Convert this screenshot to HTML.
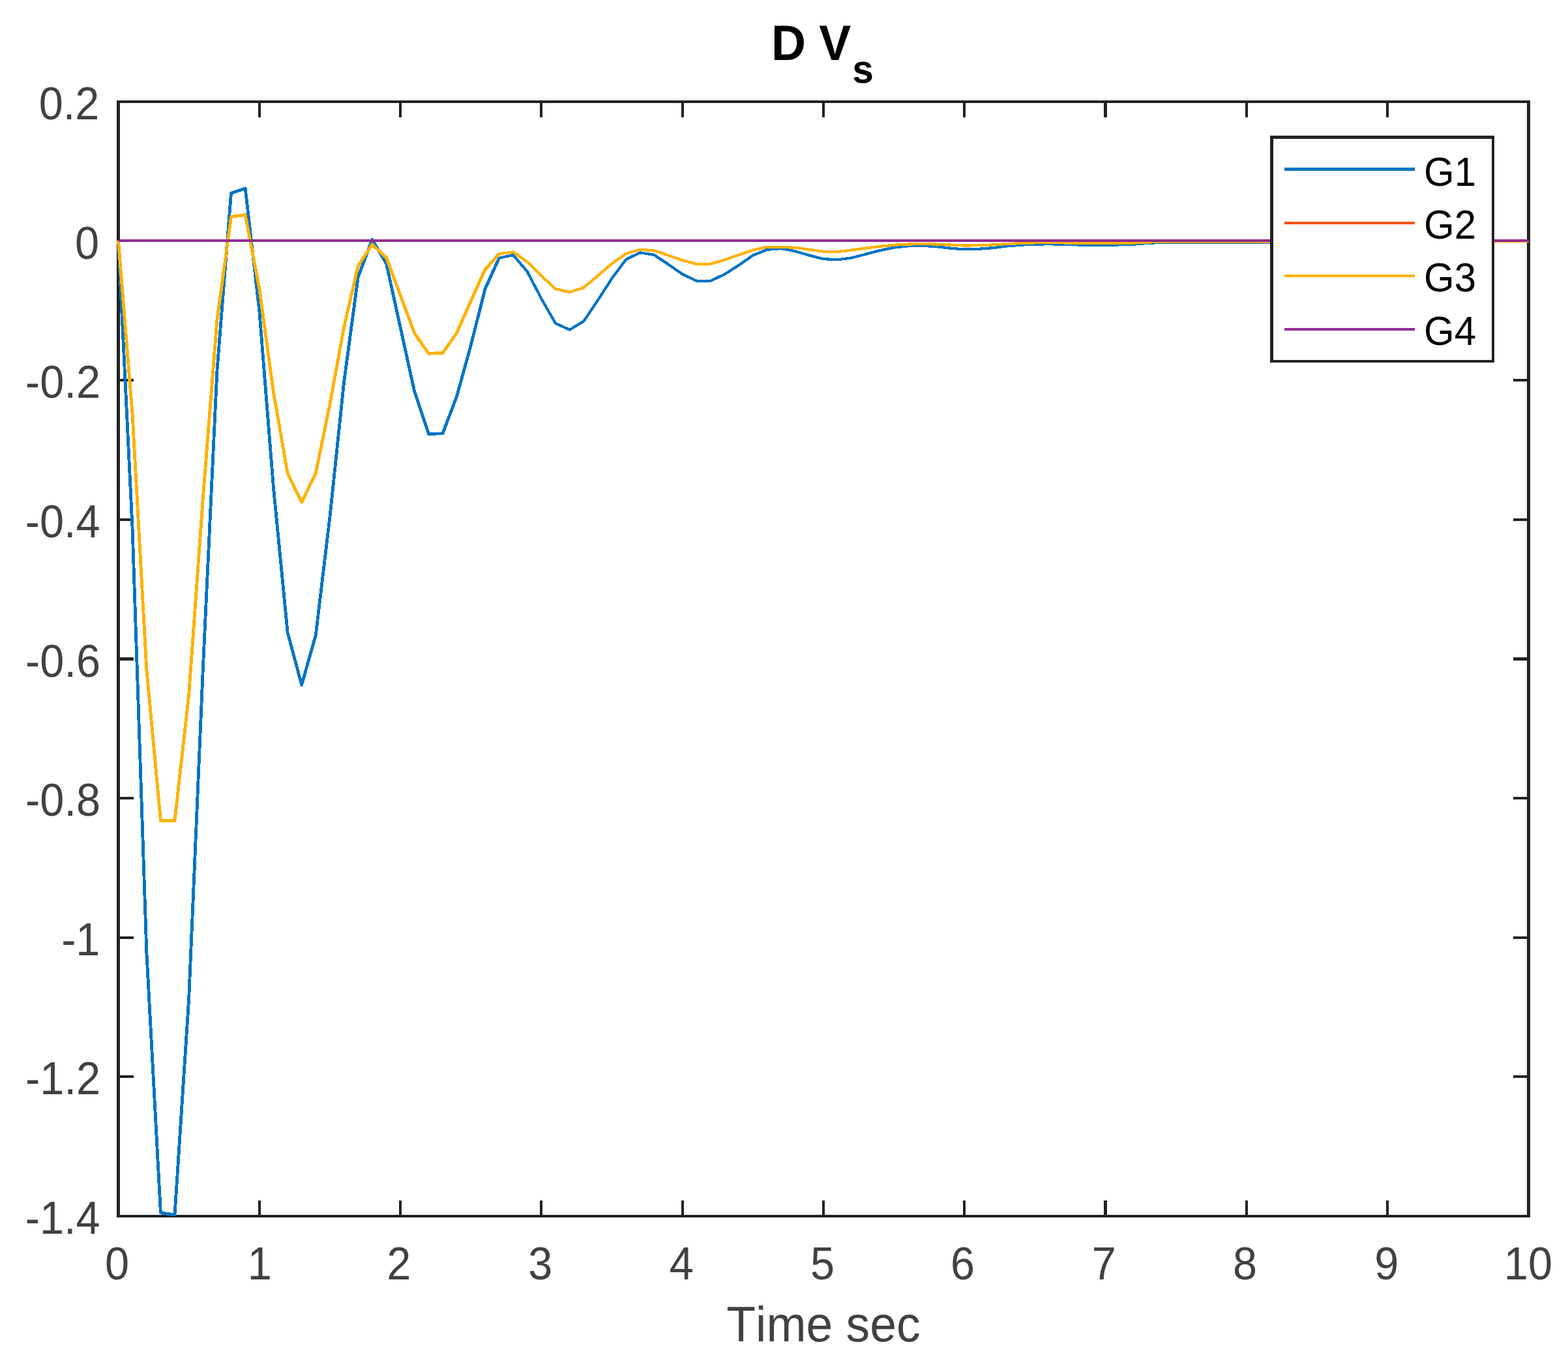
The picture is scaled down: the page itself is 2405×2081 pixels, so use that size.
<!DOCTYPE html>
<html lang="en"><head><meta charset="utf-8"><title>D Vs - Time sec</title>
<style>html,body{margin:0;padding:0;background:#fff}body{width:2405px;height:2081px;overflow:hidden}svg{display:block}text{font-family:"Liberation Sans",Arial,Helvetica,sans-serif}</style>
</head><body>
<svg width="2405" height="2081" viewBox="0 0 2405 2081">
<rect x="0" y="0" width="2405" height="2081" fill="#ffffff"/>
<g shape-rendering="crispEdges" fill="#222222">
<rect x="179" y="154" width="5" height="1713"/>
<rect x="2342" y="154" width="5" height="1713"/>
<rect x="179" y="154" width="2168" height="4"/>
<rect x="179" y="1863" width="2168" height="4"/>
<rect x="396" y="1841" width="4" height="22"/>
<rect x="396" y="158" width="4" height="22"/>
<rect x="612" y="1841" width="4" height="22"/>
<rect x="612" y="158" width="4" height="22"/>
<rect x="828" y="1841" width="4" height="22"/>
<rect x="828" y="158" width="4" height="22"/>
<rect x="1045" y="1841" width="4" height="22"/>
<rect x="1045" y="158" width="4" height="22"/>
<rect x="1261" y="1841" width="4" height="22"/>
<rect x="1261" y="158" width="4" height="22"/>
<rect x="1477" y="1841" width="4" height="22"/>
<rect x="1477" y="158" width="4" height="22"/>
<rect x="1693" y="1841" width="5" height="22"/>
<rect x="1693" y="158" width="5" height="22"/>
<rect x="1910" y="1841" width="4" height="22"/>
<rect x="1910" y="158" width="4" height="22"/>
<rect x="2126" y="1841" width="4" height="22"/>
<rect x="2126" y="158" width="4" height="22"/>
<rect x="184" y="581" width="21" height="4"/>
<rect x="2321" y="581" width="21" height="4"/>
<rect x="184" y="795" width="21" height="4"/>
<rect x="2321" y="795" width="21" height="4"/>
<rect x="184" y="1008" width="21" height="5"/>
<rect x="2321" y="1008" width="21" height="5"/>
<rect x="184" y="1222" width="21" height="4"/>
<rect x="2321" y="1222" width="21" height="4"/>
<rect x="184" y="1436" width="21" height="4"/>
<rect x="2321" y="1436" width="21" height="4"/>
<rect x="184" y="1649" width="21" height="4"/>
<rect x="2321" y="1649" width="21" height="4"/>
</g>
<g shape-rendering="crispEdges">
<polyline points="181.5,369.0 203.1,810.6 224.8,1459.7 246.4,1859.8 268.0,1862.9 289.6,1532.9 311.3,1026.1 332.9,569.0 354.5,296.2 376.2,288.9 397.8,476.9 419.4,747.2 441.1,969.9 462.7,1050.4 484.3,974.0 506.0,792.2 527.6,586.0 549.2,425.0 570.8,367.5 592.5,404.0 614.1,502.0 635.7,600.5 657.4,665.5 679.0,664.8 700.6,607.7 722.2,529.6 743.9,443.4 765.5,395.8" fill="none" stroke="#0074C5" stroke-width="4.80" stroke-linejoin="round" stroke-linecap="butt"/>
<polyline points="765.5,395.8 787.1,391.0 808.8,416.6 830.4,458.1 852.0,495.8 873.7,505.7 895.3,492.6 916.9,460.5 938.6,426.9 960.2,397.8 981.8,387.4 1003.4,390.9 1025.1,405.4 1046.7,420.5 1068.3,430.7 1090.0,430.7 1111.6,420.5 1133.2,406.7 1154.8,391.6 1176.5,382.8 1198.1,381.1 1219.7,385.3 1241.4,391.6 1263.0,397.1 1284.6,398.3 1306.3,395.4 1327.9,389.8 1349.5,384.1 1371.2,379.6 1392.8,377.3 1414.4,376.8 1436.0,378.1 1457.7,380.7 1479.3,382.4 1500.9,381.8 1522.6,380.2 1544.2,377.5 1565.8,375.6 1587.5,374.6 1609.1,374.3 1630.7,374.7 1652.3,375.4 1674.0,375.8 1695.6,375.8 1717.2,375.4 1738.9,374.7 1760.5,372.8 1782.1,372.0 1803.8,372.0 1825.4,372.0 1847.0,372.0 1868.6,372.0 1890.3,372.0 1911.9,372.0 1933.5,372.0 1955.2,372.0 1976.8,371.9 1998.4,371.7 2020.1,371.6 2041.7,371.3 2063.3,371.2 2084.9,371.1 2106.6,370.9 2128.2,370.8 2149.8,370.6 2171.5,370.5 2193.1,370.4 2214.7,370.2 2236.3,370.1 2258.0,369.9 2279.6,369.7 2301.2,369.7 2322.9,369.7 2344.5,369.7" fill="none" stroke="#0074C5" stroke-width="4.20" stroke-linejoin="round" stroke-linecap="butt"/>
<line x1="181.5" y1="369.0" x2="2344.5" y2="369.0" stroke="#F9520B" stroke-width="4.20"/>
<polyline points="181.5,369.0 203.1,635.4 224.8,1026.1 246.4,1258.2 268.0,1258.6 289.6,1066.2 311.3,764.4 332.9,491.0 354.5,332.3 376.2,329.5 397.8,442.5 419.4,601.1 441.1,725.9 462.7,770.1 484.3,725.6 506.0,619.6 527.6,501.7 549.2,407.8 570.8,374.8 592.5,395.2 614.1,452.8 635.7,511.0 657.4,542.2 679.0,541.5 700.6,510.4 722.2,461.6 743.9,413.5 765.5,389.2" fill="none" stroke="#FFB100" stroke-width="4.80" stroke-linejoin="round" stroke-linecap="butt"/>
<polyline points="765.5,389.2 787.1,386.5 808.8,401.6 830.4,422.9 852.0,443.1 873.7,448.0 895.3,441.1 916.9,422.9 938.6,404.1 960.2,389.1 981.8,382.8 1003.4,384.3 1025.1,391.6 1046.7,399.1 1068.3,404.9 1090.0,404.7 1111.6,398.4 1133.2,390.9 1154.8,383.5 1176.5,378.8 1198.1,378.9 1219.7,379.8 1241.4,382.8 1263.0,385.7 1284.6,386.0 1306.3,383.5 1327.9,380.5 1349.5,377.8 1371.2,375.7 1392.8,374.6 1414.4,374.0 1436.0,374.6 1457.7,375.6 1479.3,376.5 1500.9,376.3 1522.6,375.4 1544.2,374.1 1565.8,373.1 1587.5,372.4 1609.1,372.2 1630.7,372.4 1652.3,372.8 1674.0,373.3 1695.6,373.3 1717.2,373.0 1738.9,372.5 1760.5,371.5 1782.1,371.0 1803.8,371.0 1825.4,371.0 1847.0,371.0 1868.6,371.0 1890.3,371.0 1911.9,371.0 1933.5,371.0 1955.2,371.0 1976.8,370.9 1998.4,370.9 2020.1,370.8 2041.7,370.7 2063.3,370.7 2084.9,370.6 2106.6,370.5 2128.2,370.5 2149.8,370.4 2171.5,370.3 2193.1,370.3 2214.7,370.2 2236.3,370.1 2258.0,370.1 2279.6,370.0 2301.2,370.0 2322.9,370.0 2344.5,370.0" fill="none" stroke="#FFB100" stroke-width="4.20" stroke-linejoin="round" stroke-linecap="butt"/>
<line x1="181.5" y1="369.0" x2="2344.5" y2="369.0" stroke="#912C92" stroke-width="4.20"/>
</g>
<g>
<text transform="translate(152.30 183.00) scale(1.0000 1.0430)" font-size="66.67" fill="#414141" text-anchor="end">0.2</text>
<text transform="translate(152.10 396.62) scale(1.0000 1.0430)" font-size="66.67" fill="#414141" text-anchor="end">0</text>
<text transform="translate(154.00 610.25) scale(1.0000 1.0430)" font-size="66.67" fill="#414141" text-anchor="end">-0.2</text>
<text transform="translate(153.60 823.88) scale(1.0000 1.0430)" font-size="66.67" fill="#414141" text-anchor="end">-0.4</text>
<text transform="translate(154.00 1037.50) scale(1.0000 1.0430)" font-size="66.67" fill="#414141" text-anchor="end">-0.6</text>
<text transform="translate(154.00 1251.12) scale(1.0000 1.0430)" font-size="66.67" fill="#414141" text-anchor="end">-0.8</text>
<text transform="translate(153.40 1464.75) scale(1.0000 1.0430)" font-size="66.67" fill="#414141" text-anchor="end">-1</text>
<text transform="translate(154.00 1678.38) scale(1.0000 1.0430)" font-size="66.67" fill="#414141" text-anchor="end">-1.2</text>
<text transform="translate(153.60 1892.00) scale(1.0000 1.0430)" font-size="66.67" fill="#414141" text-anchor="end">-1.4</text>
<text transform="translate(179.60 1961.50) scale(1.0000 1.0430)" font-size="66.67" fill="#414141" text-anchor="middle">0</text>
<text transform="translate(398.30 1961.50) scale(1.0000 1.0430)" font-size="66.67" fill="#414141" text-anchor="middle">1</text>
<text transform="translate(611.80 1961.50) scale(1.0000 1.0430)" font-size="66.67" fill="#414141" text-anchor="middle">2</text>
<text transform="translate(828.90 1961.50) scale(1.0000 1.0430)" font-size="66.67" fill="#414141" text-anchor="middle">3</text>
<text transform="translate(1045.20 1961.50) scale(1.0000 1.0430)" font-size="66.67" fill="#414141" text-anchor="middle">4</text>
<text transform="translate(1261.50 1961.50) scale(1.0000 1.0430)" font-size="66.67" fill="#414141" text-anchor="middle">5</text>
<text transform="translate(1476.60 1961.50) scale(1.0000 1.0430)" font-size="66.67" fill="#414141" text-anchor="middle">6</text>
<text transform="translate(1693.30 1961.50) scale(1.0000 1.0430)" font-size="66.67" fill="#414141" text-anchor="middle">7</text>
<text transform="translate(1909.60 1961.50) scale(1.0000 1.0430)" font-size="66.67" fill="#414141" text-anchor="middle">8</text>
<text transform="translate(2126.70 1961.50) scale(1.0000 1.0430)" font-size="66.67" fill="#414141" text-anchor="middle">9</text>
<text transform="translate(2343.90 1961.50) scale(1.0000 1.0430)" font-size="66.67" fill="#414141" text-anchor="middle">10</text>
</g>
<text style="font-kerning:none" transform="translate(1263.00 2056.50) scale(1.0000 1.0350)" font-size="73.33" fill="#414141" text-anchor="middle">Time sec</text>
<text transform="translate(1183.00 92.00) scale(1.0000 1.0400)" font-size="73.33" fill="#000000" font-weight="bold">D V<tspan dx="2.0" dy="34.1" font-size="58.67">s</tspan></text>
<g>
<rect x="1950.25" y="210.25" width="339.50" height="343.50" fill="#ffffff" stroke="#222222" stroke-width="4.50" shape-rendering="crispEdges"/>
<line x1="1970.0" y1="259.50" x2="2170.0" y2="259.50" stroke="#0074C5" stroke-width="5.00" shape-rendering="crispEdges"/>
<text transform="translate(2184.00 285.40) scale(1.0000 1.0550)" font-size="60.00" fill="#000000">G1</text>
<line x1="1970.0" y1="342.00" x2="2170.0" y2="342.00" stroke="#F9520B" stroke-width="4.00" shape-rendering="crispEdges"/>
<text transform="translate(2184.00 366.00) scale(1.0000 1.0550)" font-size="60.00" fill="#000000">G2</text>
<line x1="1970.0" y1="423.00" x2="2170.0" y2="423.00" stroke="#FFB100" stroke-width="4.00" shape-rendering="crispEdges"/>
<text transform="translate(2184.00 447.00) scale(1.0000 1.0550)" font-size="60.00" fill="#000000">G3</text>
<line x1="1970.0" y1="505.00" x2="2170.0" y2="505.00" stroke="#912C92" stroke-width="4.00" shape-rendering="crispEdges"/>
<text transform="translate(2184.00 528.50) scale(1.0000 1.0550)" font-size="60.00" fill="#000000">G4</text>
</g>
</svg>
</body></html>
